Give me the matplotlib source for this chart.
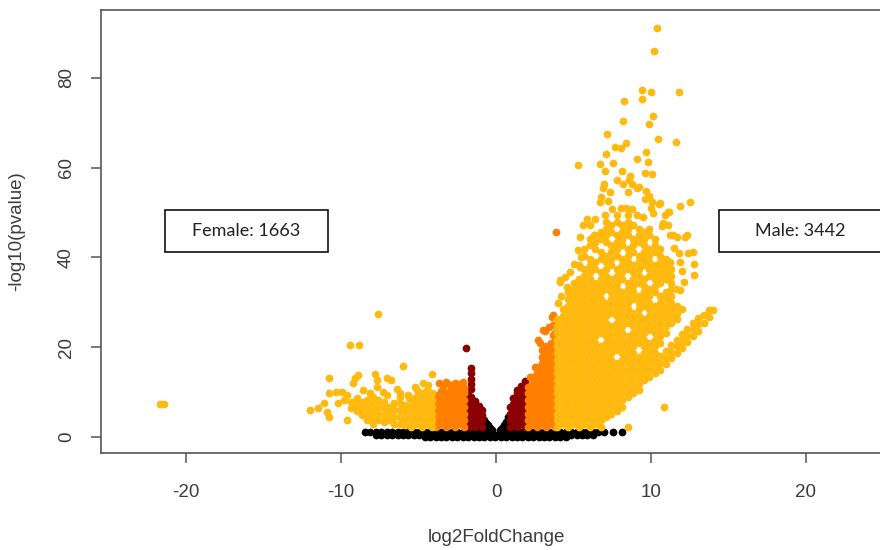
import numpy as np
import matplotlib
matplotlib.use("Agg")
import matplotlib.pyplot as plt
from matplotlib.patches import Rectangle

plt.rcParams["axes.unicode_minus"] = False

# ---------------- data ----------------
# black: non-significant genes, stored as rows (y value, x positions)
black_row_y = [1.2, 0.5, -0.1]
black_row_x = [
    [-8.45, -8.1, -7.75, -7.4, -7.05, -6.7, -6.35, -6.0, -5.65, -5.3, -4.95, -4.6, -4.25,
     -3.9, -3.55, -3.2, -2.85, -2.5, -2.15, -1.8, -1.45, -1.1, -0.75, 0.65, 1.0, 1.35, 1.7,
     2.05, 2.4, 2.75, 3.1, 3.45, 3.8, 4.15, 4.5, 4.85, 5.2, 5.55, 5.9, 6.25, 6.6, 6.95,
     7.57, 8.1],
    [-7.75, -7.4, -7.05, -6.7, -6.35, -6.0, -5.65, -5.3, -4.95, -4.6, -4.25, -3.9, -3.55,
     -3.2, -2.85, -2.5, -2.15, -1.8, -1.45, -1.1, -0.75, -0.4, -0.05, 0.3, 0.65, 1.0, 1.35,
     1.7, 2.05, 2.4, 2.75, 3.1, 3.45, 3.8, 4.15, 4.5, 4.85, 5.2, 5.55, 5.9, 6.25],
    [-4.6, -4.25, -3.9, -3.55, -3.2, -2.85, -2.5, -2.15, -1.8, -1.45, -1.1, -0.75, -0.4,
     -0.05, 0.3, 0.65, 1.0, 1.35, 1.7, 2.05, 2.4, 2.75, 3.1, 3.45, 3.8, 4.15, 4.5],
]
# black "V" around zero (columns)
black_v_x = [-0.75, -0.625, -0.5, -0.375, -0.25, 0.25, 0.375, 0.5, 0.625, 0.75]
black_v_y = [[1.8, 2.8, 3.8], [1.8, 2.8, 3.2], [1.8, 2.6], [1.7, 2.1], [1.5],
             [1.5], [1.7, 2.1], [1.8, 2.6], [1.8, 2.8, 3.3], [1.8, 2.8, 3.8, 4.4]]

# dark red (columns)
darkred_x = [-1.8, -1.6, -1.35, -1.1, -0.9, 0.9, 1.1, 1.35, 1.6, 1.85, -1.95]
darkred_y = [[2.2, 3.7, 5.2, 6.7, 8.2, 9.4],
             [2.9, 4.4, 5.9, 7.4, 8.9, 10.6, 11.8, 13.0, 14.2, 15.3],
             [2.2, 3.7, 5.2, 6.7, 8.0],
             [2.9, 4.4, 5.9, 7.0],
             [2.2, 3.7, 5.0, 6.0],
             [2.2, 3.7, 5.2, 6.7],
             [2.9, 4.4, 5.9, 7.4, 8.6],
             [2.2, 3.7, 5.2, 6.7, 8.2, 9.7, 10.5],
             [2.9, 4.4, 5.9, 7.4, 8.9, 10.4, 11.4],
             [2.2, 3.7, 5.2, 6.7, 8.2, 9.7, 11.2, 12.4],
             [19.8]]

# orange (columns + scattered)
orange_x = [-3.85, -3.55, -3.25, -2.95, -2.65, -2.35, -2.05,
            2.05, 2.35, 2.65, 2.95, 3.25, 3.55, 3.8]
orange_y = [[2.2, 3.7, 5.2, 6.7, 8.2, 9.3],
            [2.9, 4.4, 5.9, 7.4, 8.9, 10.2],
            [2.2, 3.7, 5.2, 6.7, 8.2, 9.7],
            [2.9, 4.4, 5.9, 7.4, 8.9, 10.3],
            [2.2, 3.7, 5.2, 6.7, 8.2, 9.7, 10.8],
            [2.9, 4.4, 5.9, 7.4, 8.9, 10.4],
            [2.2, 3.7, 5.2, 6.7, 8.2, 9.7, 11.0],
            [2.2, 3.7, 5.2, 6.7, 8.2, 9.7, 11.2],
            [2.9, 4.4, 5.9, 7.4, 8.9, 10.4, 11.9, 13.4],
            [2.2, 3.7, 5.2, 6.7, 8.2, 9.7, 11.2, 12.7, 14.2, 15.7],
            [2.9, 4.4, 5.9, 7.4, 8.9, 10.4, 11.9, 13.4, 14.9, 16.4, 17.9, 19.4],
            [2.2, 3.7, 5.2, 6.7, 8.2, 9.7, 11.2, 12.7, 14.2, 15.7, 17.2, 18.7, 20.2],
            [2.9, 4.4, 5.9, 7.4, 8.9, 10.4, 11.9, 13.4, 14.9, 16.4, 17.9, 19.4, 20.9],
            [2.2, 3.7, 5.2, 6.7, 8.2, 9.7, 11.2, 12.7, 14.2, 15.7, 17.2, 18.7, 20.2, 21.7, 23.2]]
orange_sc_x = [-3.7, -3.2, -2.65, -2.1, -3.45, -2.4, -3.0,
               3.05, 2.84, 3.6, 3.7, 3.7, 2.73, 3.16, 3.7, 3.4, 2.5, 2.2, 3.9]
orange_sc_y = [12.0, 12.3, 12.0, 12.3, 11.2, 11.8, 11.5,
               23.8, 20.9, 26.8, 27.2, 22.7, 21.5, 23.5, 25.0, 24.5, 15.5, 13.4, 45.7]

# gold, left side (columns + scattered)
gold_left_x = [-9.35, -9.0, -8.65, -8.3, -7.95, -7.6, -7.25, -6.9, -6.55, -6.2,
               -5.85, -5.5, -5.15, -4.8, -4.45, -4.1]
gold_left_y = [[6.4, 7.9], [5.7, 7.2, 8.7], [4.9, 6.4, 7.9], [3.7, 5.2, 6.7, 8.2],
               [2.9, 4.4, 5.9, 7.4, 8.9], [3.7, 5.2, 6.7, 8.2], [3.4, 4.9, 6.4, 7.9],
               [3.7, 5.2, 6.7], [3.0, 4.5, 6.0, 7.5], [3.0, 4.5, 6.0, 7.5, 9.0],
               [2.7, 4.2, 5.7, 7.2], [2.2, 3.7, 5.2, 6.7, 8.2], [2.9, 4.4, 5.9, 7.4, 8.9],
               [2.2, 3.7, 5.2, 6.7, 8.2, 9.7], [2.9, 4.4, 5.9, 7.4, 8.9, 10.4],
               [2.2, 3.7, 5.2, 6.7, 8.2, 9.7]]
gold_left_sc_x = [-21.7, -21.4, -7.6, -9.4, -8.85, -6.0, -10.75, -7.8, -7.7, -8.9, -9.1,
                  -9.2, -7.05, -6.8, -4.15, -4.7, -5.2, -5.1, -6.4, -6.2, -10.75, -10.3,
                  -9.96, -9.6, -7.7, -7.3, -7.05, -11.1, -11.5, -12.0, -10.8, -10.9, -9.6,
                  -8.6, -8.1, -5.7, -4.4, -9.8, -10.2, -5.6]
gold_left_sc_y = [7.3, 7.3, 27.3, 20.5, 20.5, 15.8, 13.1, 14.0, 12.8, 13.8, 13.1,
                  12.0, 13.1, 12.7, 14.0, 12.0, 11.2, 10.5, 10.8, 9.7, 9.9, 10.1,
                  10.1, 9.35, 11.2, 10.1, 9.35, 7.5, 6.4, 6.0, 4.5, 5.6, 3.8,
                  10.4, 9.9, 9.3, 11.6, 8.3, 7.6, 8.6]

# gold, right side (columns + scattered)
gold_right_x = [3.95, 4.3, 4.65, 5.0, 5.35, 5.7, 6.05, 6.4, 6.75, 7.1, 7.45, 7.8, 8.15,
                8.5, 8.85, 9.2, 9.55, 9.9, 10.25, 10.6, 10.95, 11.3, 11.65, 12.0, 12.35,
                12.7, 13.05, 13.4, 13.75, 14.0]
gold_right_y = [
    [2.2, 3.7, 5.2, 6.7, 8.2, 9.7, 11.2, 12.7, 14.2, 15.7, 17.2, 18.7, 20.2, 21.7, 23.2, 24.7, 26.2],
    [2.9, 4.4, 5.9, 7.4, 8.9, 10.4, 11.9, 13.4, 14.9, 16.4, 17.9, 19.4, 20.9, 22.4, 23.9, 25.4, 26.9, 28.4],
    [2.2, 3.7, 5.2, 6.7, 8.2, 9.7, 11.2, 12.7, 14.2, 15.7, 17.2, 18.7, 20.2, 21.7, 23.2, 24.7, 26.2, 27.7,
     29.2, 30.7, 32.2],
    [2.9, 4.4, 5.9, 7.4, 8.9, 10.4, 11.9, 13.4, 14.9, 16.4, 17.9, 19.4, 20.9, 22.4, 23.9, 25.4, 26.9, 28.4,
     29.9, 31.4, 32.9, 34.4],
    [2.2, 3.7, 5.2, 6.7, 8.2, 9.7, 11.2, 12.7, 14.2, 15.7, 17.2, 18.7, 20.2, 21.7, 23.2, 24.7, 26.2, 27.7,
     29.2, 30.7, 32.2, 33.7, 35.2, 38.2],
    [2.9, 4.4, 5.9, 7.4, 8.9, 10.4, 11.9, 13.4, 14.9, 16.4, 17.9, 19.4, 20.9, 22.4, 23.9, 25.4, 26.9, 28.4,
     29.9, 31.4, 32.9, 34.4, 35.9, 37.4, 40.4, 41.9],
    [2.2, 3.7, 5.2, 6.7, 8.2, 9.7, 11.2, 12.7, 14.2, 15.7, 17.2, 18.7, 20.2, 21.7, 23.2, 24.7, 26.2, 27.7,
     29.2, 30.7, 32.2, 33.7, 35.2, 36.7, 38.2, 39.7, 42.7, 44.2],
    [2.9, 4.4, 5.9, 7.4, 8.9, 10.4, 11.9, 13.4, 14.9, 16.4, 17.9, 19.4, 20.9, 22.4, 23.9, 25.4, 26.9, 28.4,
     29.9, 31.4, 32.9, 34.4, 37.4, 38.9, 41.9, 43.4, 44.9],
    [2.2, 3.7, 5.2, 6.7, 8.2, 9.7, 11.2, 12.7, 14.2, 15.7, 17.2, 18.7, 20.2, 23.2, 24.7, 26.2, 27.7, 29.2,
     30.7, 32.2, 33.7, 35.2, 36.7, 39.7, 41.2, 44.2, 45.7],
    [4.4, 5.9, 7.4, 8.9, 10.4, 11.9, 13.4, 14.9, 16.4, 17.9, 19.4, 20.9, 22.4, 23.9, 25.4, 26.9, 28.4, 29.9,
     32.9, 34.4, 35.9, 37.4, 38.9, 40.4, 43.4, 44.9, 46.4, 47.9],
    [5.2, 6.7, 8.2, 9.7, 11.2, 12.7, 14.2, 15.7, 17.2, 18.7, 20.2, 21.7, 23.2, 24.7, 27.7, 29.2, 30.7, 32.2,
     33.7, 35.2, 38.2, 39.7, 41.2, 42.7, 45.7, 47.2],
    [5.9, 7.4, 8.9, 10.4, 11.9, 13.4, 14.9, 16.4, 19.4, 20.9, 22.4, 23.9, 25.4, 26.9, 28.4, 29.9, 31.4, 32.9,
     34.4, 35.9, 37.4, 40.4, 41.9, 43.4, 44.9, 47.9],
    [6.7, 8.2, 9.7, 11.2, 12.7, 14.2, 15.7, 17.2, 18.7, 20.2, 21.7, 23.2, 24.7, 26.2, 27.7, 29.2, 30.7, 32.2,
     35.2, 36.7, 38.2, 39.7, 42.7, 44.2, 45.7, 47.2],
    [8.9, 10.4, 11.9, 13.4, 14.9, 16.4, 17.9, 19.4, 20.9, 22.4, 25.4, 26.9, 28.4, 29.9, 31.4, 32.9, 34.4,
     37.4, 38.9, 40.4, 41.9, 44.9, 46.4, 47.9],
    [9.7, 11.2, 12.7, 14.2, 15.7, 17.2, 18.7, 20.2, 21.7, 23.2, 24.7, 26.2, 27.7, 30.7, 32.2, 33.7, 35.2,
     36.7, 38.2, 41.2, 42.7, 44.2, 47.2],
    [10.4, 11.9, 13.4, 14.9, 16.4, 17.9, 20.9, 22.4, 23.9, 25.4, 26.9, 28.4, 29.9, 31.4, 34.4, 35.9, 37.4,
     38.9, 40.4, 43.4, 44.9, 46.4],
    [12.7, 14.2, 15.7, 17.2, 18.7, 20.2, 21.7, 23.2, 24.7, 26.2, 29.2, 30.7, 32.2, 33.7, 35.2, 38.2, 39.7,
     41.2, 42.7, 44.2, 45.7],
    [13.4, 14.9, 16.4, 17.9, 19.4, 20.9, 23.9, 25.4, 26.9, 28.4, 29.9, 31.4, 32.9, 35.9, 37.4, 38.9, 40.4,
     41.9, 44.9, 46.4],
    [14.2, 15.7, 17.2, 18.7, 20.2, 21.7, 23.2, 24.7, 26.2, 27.7, 29.2, 32.2, 33.7, 35.2, 36.7, 38.2, 41.2,
     42.7, 44.2],
    [15.0, 16.5, 18.0, 20.9, 22.4, 23.9, 25.4, 26.9, 28.4, 29.9, 31.4, 34.4, 35.9, 37.4, 38.9, 40.4, 41.9],
    [16.2, 17.7, 19.2, 23.2, 24.7, 26.2, 27.7, 29.2, 30.7, 32.2, 35.2, 36.7, 38.2, 39.7],
    [17.5, 19.0, 20.5, 25.4, 26.9, 28.4, 29.9, 31.4, 32.9, 34.4, 35.9, 37.4],
    [18.7, 20.2, 21.7, 26.2, 27.7, 29.2],
    [19.9, 21.4, 22.9, 28.4],
    [21.1, 22.6, 24.1],
    [22.4, 23.9, 25.4],
    [23.6, 25.1, 26.6],
    [25.5, 27.1],
    [26.8, 28.2],
    [28.3],
]
gold_right_sc_x = [10.37, 10.2, 9.42, 9.98, 11.8, 9.42, 8.28, 10.13, 8.2, 9.9, 7.16, 10.43,
                   11.6, 7.7, 8.05, 8.4, 9.66, 7.1, 9.1, 5.27, 6.69, 7.57, 9.83, 7.0, 8.13,
                   9.6, 10.05, 8.65, 8.6, 6.97, 7.8, 8.75, 8.2, 9.2, 9.7, 6.92, 7.35, 8.5,
                   9.1, 6.7, 7.46, 8.06, 8.5, 9.1, 9.5, 10.05, 10.6, 11.1, 10.9, 11.9, 12.5,
                   9.9, 9.6, 8.8, 8.4, 5.63, 6.06, 10.7, 11.1, 12.3, 12.2, 11.65, 11.2,
                   10.75, 11.4, 11.8, 12.4, 12.7, 12.8, 12.8, 12.1, 11.9, 11.9, 10.9, 11.2,
                   5.4, 6.3, 5.3, 5.5, 5.4, 4.45, 4.13, 4.56, 4.88, 4.13, 6.8, 7.2, 11.5,
                   10.1, 10.0, 11.15, 10.5, 10.85, 8.5, 12.0, 11.6, 7.0, 7.8, 6.4, 5.9,
                   4.8, 5.0, 4.0, 4.2]
gold_right_sc_y = [91.0, 86.0, 77.3, 76.8, 76.8, 75.3, 74.8, 71.5, 70.4, 69.6, 67.4, 66.3,
                   65.8, 64.7, 64.4, 65.5, 63.5, 63.0, 61.9, 60.6, 60.9, 61.0, 61.3, 59.2, 59.2,
                   58.9, 58.6, 58.1, 57.3, 56.4, 57.2, 56.3, 56.3, 55.6, 54.9, 55.4, 54.6, 54.6,
                   55.4, 52.4, 50.7, 51.0, 49.4, 49.4, 49.0, 52.4, 52.2, 50.2, 49.4, 51.4, 52.4,
                   53.7, 53.1, 50.7, 51.1, 47.2, 47.2, 46.9, 47.2, 45.0, 44.6, 44.6, 45.0,
                   47.6, 45.0, 40.9, 40.9, 41.3, 38.5, 36.1, 34.6, 32.7, 39.0, 37.9, 39.0,
                   44.6, 45.0, 41.6, 40.2, 37.9, 35.7, 34.6, 33.5, 32.0, 35.0, 53.5, 52.5, 42.0,
                   49.8, 50.9, 50.2, 52.0, 6.6, 2.3, 37.0, 33.0, 49.4, 49.5, 48.5, 48.6,
                   36.8, 38.5, 29.8, 31.5]

ann_female = "Female: 1663"
ann_male = "Male: 3442"

# colours
C_BLACK = "#000000"
C_DARKRED = "#8B0000"
C_ORANGE = "#FF7F00"
C_GOLD = "#FFB90F"


def cols(xs, ys):
    ox, oy = [], []
    for x, yl in zip(xs, ys):
        for y in yl:
            ox.append(x)
            oy.append(y)
    return np.array(ox), np.array(oy)


def rows(ys, xs):
    ox, oy = [], []
    for y, xl in zip(ys, xs):
        for x in xl:
            ox.append(x)
            oy.append(y)
    return np.array(ox), np.array(oy)


W, H = 880, 550
fig = plt.figure(figsize=(W / 100, H / 100), dpi=100)
# axes: left spine at px 100, right spine just outside the image
ax = fig.add_axes([100.75 / W, (H - 453) / H, (891.25 - 100.75) / W, (453 - 10) / H])
ax.set_xlim(-25.5, 25.5)
ax.set_ylim(-3.56, 95.1)

S = 31
bx1, by1 = rows(black_row_y, black_row_x)
bx2, by2 = cols(black_v_x, black_v_y)
ax.scatter(np.r_[bx1, bx2], np.r_[by1, by2], s=S, c=C_BLACK, linewidths=0, zorder=2)

dx, dy = cols(darkred_x, darkred_y)
ax.scatter(dx, dy, s=S, c=C_DARKRED, linewidths=0, zorder=3)

ox, oy = cols(orange_x, orange_y)
ax.scatter(np.r_[ox, orange_sc_x], np.r_[oy, orange_sc_y], s=S, c=C_ORANGE,
           linewidths=0, zorder=4)

gx1, gy1 = cols(gold_left_x, gold_left_y)
gx2, gy2 = cols(gold_right_x, gold_right_y)
ax.scatter(np.r_[gx1, gold_left_sc_x, gx2, gold_right_sc_x],
           np.r_[gy1, gold_left_sc_y, gy2, gold_right_sc_y],
           s=S, c=C_GOLD, linewidths=0, zorder=5)

# R-like axes
spine_col = "#555555"
txt_col = "#3c3c3c"
for sp in ax.spines.values():
    sp.set_color(spine_col)
    sp.set_linewidth(1.2)
ax.set_xticks([-20, -10, 0, 10, 20])
ax.set_yticks([0, 20, 40, 60, 80])
ax.tick_params(axis="both", direction="out", length=7.5, width=1.1, color=spine_col,
               labelcolor=txt_col, labelsize=13.5)
ax.tick_params(axis="x", pad=15)
ax.tick_params(axis="y", pad=11)
for lab in ax.get_yticklabels():
    lab.set_rotation(90)
    lab.set_va("center")
    lab.set_ha("right")
for lab in ax.get_xticklabels() + ax.get_yticklabels():
    lab.set_family("Liberation Sans")

fig.text(496 / W, 1 - 538 / H, "log2FoldChange", ha="center", va="center",
         fontsize=13.5, color=txt_col, family="Liberation Sans")
fig.text(17 / W, 1 - 231 / H, "-log10(pvalue)", ha="center", va="center",
         rotation=90, fontsize=13.5, color=txt_col, family="Liberation Sans")

# annotation boxes
for (x0, x1), label, cx in [((165, 328), ann_female, 246), ((719, 900), ann_male, 800)]:
    r = Rectangle((x0 / W, 1 - 252 / H), (x1 - x0) / W, 42 / H, transform=fig.transFigure,
                  facecolor="white", edgecolor="#111111", linewidth=1.2, zorder=10)
    fig.add_artist(r)
    fig.text(cx / W, 1 - 231 / H, label, ha="center", va="center", fontsize=13,
             color="#222222", family="Lato", zorder=11)

fig.savefig("out.png", dpi=100)
